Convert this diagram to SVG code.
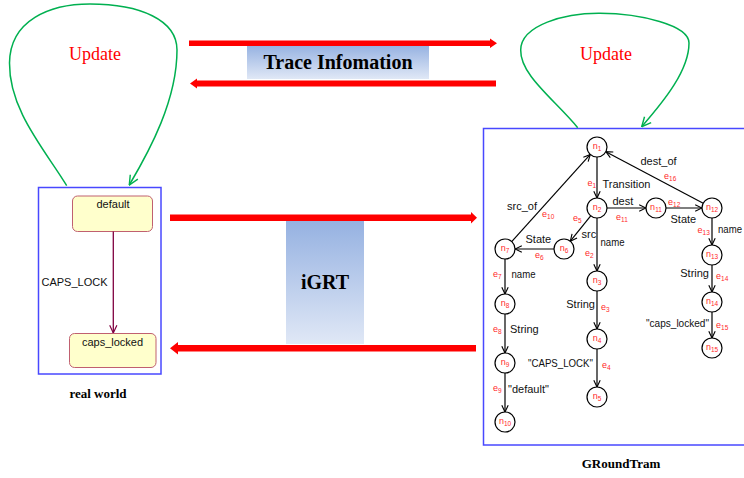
<svg xmlns="http://www.w3.org/2000/svg" width="744" height="478" viewBox="0 0 744 478">
  <defs>
    <linearGradient id="blueFade" x1="0" y1="0" x2="0" y2="1">
      <stop offset="0" stop-color="#95b1e1"/>
      <stop offset="1" stop-color="#e0e8f6"/>
    </linearGradient>
    <marker id="vBlack" viewBox="0 0 10 10" refX="9.5" refY="5" markerWidth="8" markerHeight="8" markerUnits="userSpaceOnUse" orient="auto">
      <path d="M1,1 L9.5,5 L1,9" fill="none" stroke="#000" stroke-width="1.4"/>
    </marker>
    <marker id="vGreen" viewBox="0 0 10 10" refX="9.5" refY="5" markerWidth="11" markerHeight="11" markerUnits="userSpaceOnUse" orient="auto">
      <path d="M1,1 L9.5,5 L1,9" fill="none" stroke="#00b050" stroke-width="1.3"/>
    </marker>
    <marker id="vMaroon" viewBox="0 0 10 10" refX="9.5" refY="5" markerWidth="9" markerHeight="9" markerUnits="userSpaceOnUse" orient="auto">
      <path d="M1,1 L9.5,5 L1,9" fill="none" stroke="#800040" stroke-width="1.3"/>
    </marker>
  </defs>
  <style>
    .frame { fill: #fff; stroke: #4848ff; stroke-width: 1.5; }
    .state { fill: #ffffcc; stroke: #c06070; stroke-width: 1; }
    .sans { font-family: "Liberation Sans", Arial, sans-serif; font-size: 11px; fill: #111; }
    .title { font-family: "Liberation Serif", "Times New Roman", serif; font-weight: bold; fill: #000; }
    .upd { font-family: "Liberation Serif", "Times New Roman", serif; font-size: 18px; fill: #ff0000; }
    .loop { fill: none; stroke: #00b050; stroke-width: 1.5; }
    .fat { fill: #ff0000; }
    .node circle { fill: #fff; stroke: #000; stroke-width: 1.2; }
    .nl { font-family: "Liberation Sans", Arial, sans-serif; font-size: 9px; fill: #ff2a2a; }
    .el { font-family: "Liberation Sans", Arial, sans-serif; font-size: 9px; fill: #ff2a2a; }
    .sub { font-size: 6.5px; }
    .lbl { font-family: "Liberation Sans", Arial, sans-serif; font-size: 11px; fill: #111; }
    .edge { stroke: #000; stroke-width: 1.2; fill: none; marker-end: url(#vBlack); }
  </style>

  <rect width="744" height="478" fill="#fff"/>

  <!-- trace information band -->
  <g id="trace">
    <rect x="247" y="45" width="182" height="34" fill="url(#blueFade)"/>
    <text class="title" x="338" y="69" font-size="20" text-anchor="middle">Trace Infomation</text>
  </g>

  <!-- iGRT band -->
  <g id="igrt">
    <rect x="286" y="220" width="78" height="124" fill="url(#blueFade)"/>
    <text class="title" x="325" y="289" font-size="20" text-anchor="middle">iGRT</text>
  </g>

  <!-- real world panel -->
  <g id="realworld">
    <rect class="frame" x="38.5" y="187.5" width="122.5" height="186.5"/>
    <g id="st-default">
      <rect class="state" x="72.5" y="196" width="80" height="35.5" rx="5"/>
      <text class="sans" x="113" y="207.5" text-anchor="middle">default</text>
    </g>
    <g id="st-caps">
      <rect class="state" x="69.5" y="333.5" width="86.5" height="34" rx="5"/>
      <text class="sans" x="112.5" y="345.5" text-anchor="middle">caps_locked</text>
    </g>
    <line x1="113.3" y1="231.5" x2="113.3" y2="333" stroke="#800040" stroke-width="1.3" marker-end="url(#vMaroon)"/>
    <text class="sans" x="41.5" y="286">CAPS_LOCK</text>
    <text class="title" x="98" y="398" font-size="13" text-anchor="middle">real world</text>
  </g>

  <!-- GRoundTram panel -->
  <g id="groundtram">
    <rect class="frame" x="483.5" y="128.5" width="270" height="316.5"/>
    <text class="title" x="621" y="468" font-size="13" text-anchor="middle">GRoundTram</text>
  </g>

  <!-- update loops -->
  <g id="updates">
    <path class="loop" d="M66.7,185.7 C45,150 9,110 9.5,63 C10,20 50,4 90,4 C140,4 177,20 177,50 C177,100 150,150 129.3,185" marker-end="url(#vGreen)"/>
    <text class="upd" x="95" y="60" text-anchor="middle">Update</text>
    <path class="loop" d="M577.7,127.7 C555,100 520,75 520.7,50 C521,25 565,13 600,13.3 C640,13.5 689,25 689,43 C689,70 665,100 641.7,126.7" marker-end="url(#vGreen)"/>
    <text class="upd" x="606" y="60" text-anchor="middle">Update</text>
  </g>

  <!-- transfer arrows between the two worlds -->
  <g id="transfers">
    <polygon class="fat" points="189,40.5 490,40.5 490,38.5 497,43.3 490,48 490,46 189,46"/>
    <polygon class="fat" points="496,80.5 197,80.5 197,78.5 190,83.5 197,88.5 197,86.5 496,86.5"/>
    <polygon class="fat" points="170,214.5 471,214.5 471,212 477,217.7 471,223.5 471,221 170,221"/>
    <polygon class="fat" points="476,345 178,345 178,342 170,348.3 178,354.5 178,351.6 476,351.6"/>
  </g>

  <!-- graph connectors -->
  <g id="edges">
    <line class="edge" x1="597" y1="157" x2="597" y2="198"/>
    <line class="edge" x1="607" y1="208" x2="646" y2="208"/>
    <line class="edge" x1="666" y1="208" x2="702" y2="208"/>
    <line class="edge" x1="703.2" y1="203.3" x2="605.8" y2="151.7"/>
    <line class="edge" x1="511.7" y1="241.6" x2="590.3" y2="154.4"/>
    <line class="edge" x1="590.7" y1="215.8" x2="570.3" y2="241.2"/>
    <line class="edge" x1="554" y1="249" x2="515" y2="249"/>
    <line class="edge" x1="597" y1="218" x2="597" y2="271"/>
    <line class="edge" x1="597" y1="291" x2="597" y2="329"/>
    <line class="edge" x1="597" y1="349" x2="597" y2="387"/>
    <line class="edge" x1="712" y1="218" x2="712" y2="245"/>
    <line class="edge" x1="712" y1="265" x2="712" y2="292"/>
    <line class="edge" x1="712" y1="312" x2="712" y2="338"/>
    <line class="edge" x1="505" y1="259" x2="505" y2="294"/>
    <line class="edge" x1="505" y1="314" x2="505" y2="353"/>
    <line class="edge" x1="505" y1="373" x2="505" y2="412"/>

    <!-- edge labels -->
    <text class="el" x="587.5" y="186">e<tspan class="sub" dy="2">1</tspan></text>
    <text class="lbl" x="602.5" y="188">Transition</text>
    <text class="lbl" x="612.5" y="204.5">dest</text>
    <text class="el" x="616" y="220">e<tspan class="sub" dy="2">11</tspan></text>
    <text class="el" x="668" y="204.5">e<tspan class="sub" dy="2">12</tspan></text>
    <text class="lbl" x="670.5" y="223">State</text>
    <text class="lbl" x="640.5" y="165">dest_of</text>
    <text class="el" x="664" y="179">e<tspan class="sub" dy="2">16</tspan></text>
    <text class="lbl" x="507" y="209.5">src_of</text>
    <text class="el" x="542" y="216.5">e<tspan class="sub" dy="2">10</tspan></text>
    <text class="el" x="573" y="221">e<tspan class="sub" dy="2">5</tspan></text>
    <text class="lbl" x="581.5" y="238">src</text>
    <text class="lbl" x="525.5" y="243">State</text>
    <text class="el" x="535" y="258">e<tspan class="sub" dy="2">6</tspan></text>
    <text class="lbl" x="600.5" y="246" textLength="24" lengthAdjust="spacingAndGlyphs">name</text>
    <text class="el" x="585" y="256">e<tspan class="sub" dy="2">2</tspan></text>
    <text class="el" x="697.5" y="233">e<tspan class="sub" dy="2">13</tspan></text>
    <text class="lbl" x="718" y="233" textLength="24" lengthAdjust="spacingAndGlyphs">name</text>
    <text class="el" x="493" y="276.5">e<tspan class="sub" dy="2">7</tspan></text>
    <text class="lbl" x="511.5" y="278" textLength="24" lengthAdjust="spacingAndGlyphs">name</text>
    <text class="el" x="493" y="331.5">e<tspan class="sub" dy="2">8</tspan></text>
    <text class="lbl" x="510" y="332.5">String</text>
    <text class="el" x="493" y="391">e<tspan class="sub" dy="2">9</tspan></text>
    <text class="lbl" x="508" y="392.5">"default"</text>
    <text class="lbl" x="595" y="308" text-anchor="end">String</text>
    <text class="el" x="601" y="309.5">e<tspan class="sub" dy="2">3</tspan></text>
    <text class="lbl" x="528" y="366.5" textLength="65" lengthAdjust="spacingAndGlyphs">"CAPS_LOCK"</text>
    <text class="el" x="602" y="368">e<tspan class="sub" dy="2">4</tspan></text>
    <text class="lbl" x="709" y="276.5" text-anchor="end">String</text>
    <text class="el" x="716" y="278.5">e<tspan class="sub" dy="2">14</tspan></text>
    <text class="lbl" x="646" y="326.5" textLength="63" lengthAdjust="spacingAndGlyphs">"caps_locked"</text>
    <text class="el" x="716" y="328">e<tspan class="sub" dy="2">15</tspan></text>
  </g>

  <!-- graph nodes -->
  <g id="n1" class="node"><circle cx="597" cy="147" r="10"/><text class="nl" x="597" y="149" text-anchor="middle">n<tspan class="sub" dy="2">1</tspan></text></g>
  <g id="n2" class="node"><circle cx="597" cy="208" r="10"/><text class="nl" x="597" y="210" text-anchor="middle">n<tspan class="sub" dy="2">2</tspan></text></g>
  <g id="n3" class="node"><circle cx="597" cy="281" r="10"/><text class="nl" x="597" y="283" text-anchor="middle">n<tspan class="sub" dy="2">3</tspan></text></g>
  <g id="n4" class="node"><circle cx="597" cy="339" r="10"/><text class="nl" x="597" y="341" text-anchor="middle">n<tspan class="sub" dy="2">4</tspan></text></g>
  <g id="n5" class="node"><circle cx="597" cy="397" r="10"/><text class="nl" x="597" y="399" text-anchor="middle">n<tspan class="sub" dy="2">5</tspan></text></g>
  <g id="n6" class="node"><circle cx="564" cy="249" r="10"/><text class="nl" x="564" y="251" text-anchor="middle">n<tspan class="sub" dy="2">6</tspan></text></g>
  <g id="n7" class="node"><circle cx="505" cy="249" r="10"/><text class="nl" x="505" y="251" text-anchor="middle">n<tspan class="sub" dy="2">7</tspan></text></g>
  <g id="n8" class="node"><circle cx="505" cy="304" r="10"/><text class="nl" x="505" y="306" text-anchor="middle">n<tspan class="sub" dy="2">8</tspan></text></g>
  <g id="n9" class="node"><circle cx="505" cy="363" r="10"/><text class="nl" x="505" y="365" text-anchor="middle">n<tspan class="sub" dy="2">9</tspan></text></g>
  <g id="n10" class="node"><circle cx="505" cy="422" r="10"/><text class="nl" x="505" y="424" text-anchor="middle">n<tspan class="sub" dy="2">10</tspan></text></g>
  <g id="n11" class="node"><circle cx="656" cy="208" r="10"/><text class="nl" x="656" y="210" text-anchor="middle">n<tspan class="sub" dy="2">11</tspan></text></g>
  <g id="n12" class="node"><circle cx="712" cy="208" r="10"/><text class="nl" x="712" y="210" text-anchor="middle">n<tspan class="sub" dy="2">12</tspan></text></g>
  <g id="n13" class="node"><circle cx="712" cy="255" r="10"/><text class="nl" x="712" y="257" text-anchor="middle">n<tspan class="sub" dy="2">13</tspan></text></g>
  <g id="n14" class="node"><circle cx="712" cy="302" r="10"/><text class="nl" x="712" y="304" text-anchor="middle">n<tspan class="sub" dy="2">14</tspan></text></g>
  <g id="n15" class="node"><circle cx="712" cy="348" r="10"/><text class="nl" x="712" y="350" text-anchor="middle">n<tspan class="sub" dy="2">15</tspan></text></g>
</svg>
